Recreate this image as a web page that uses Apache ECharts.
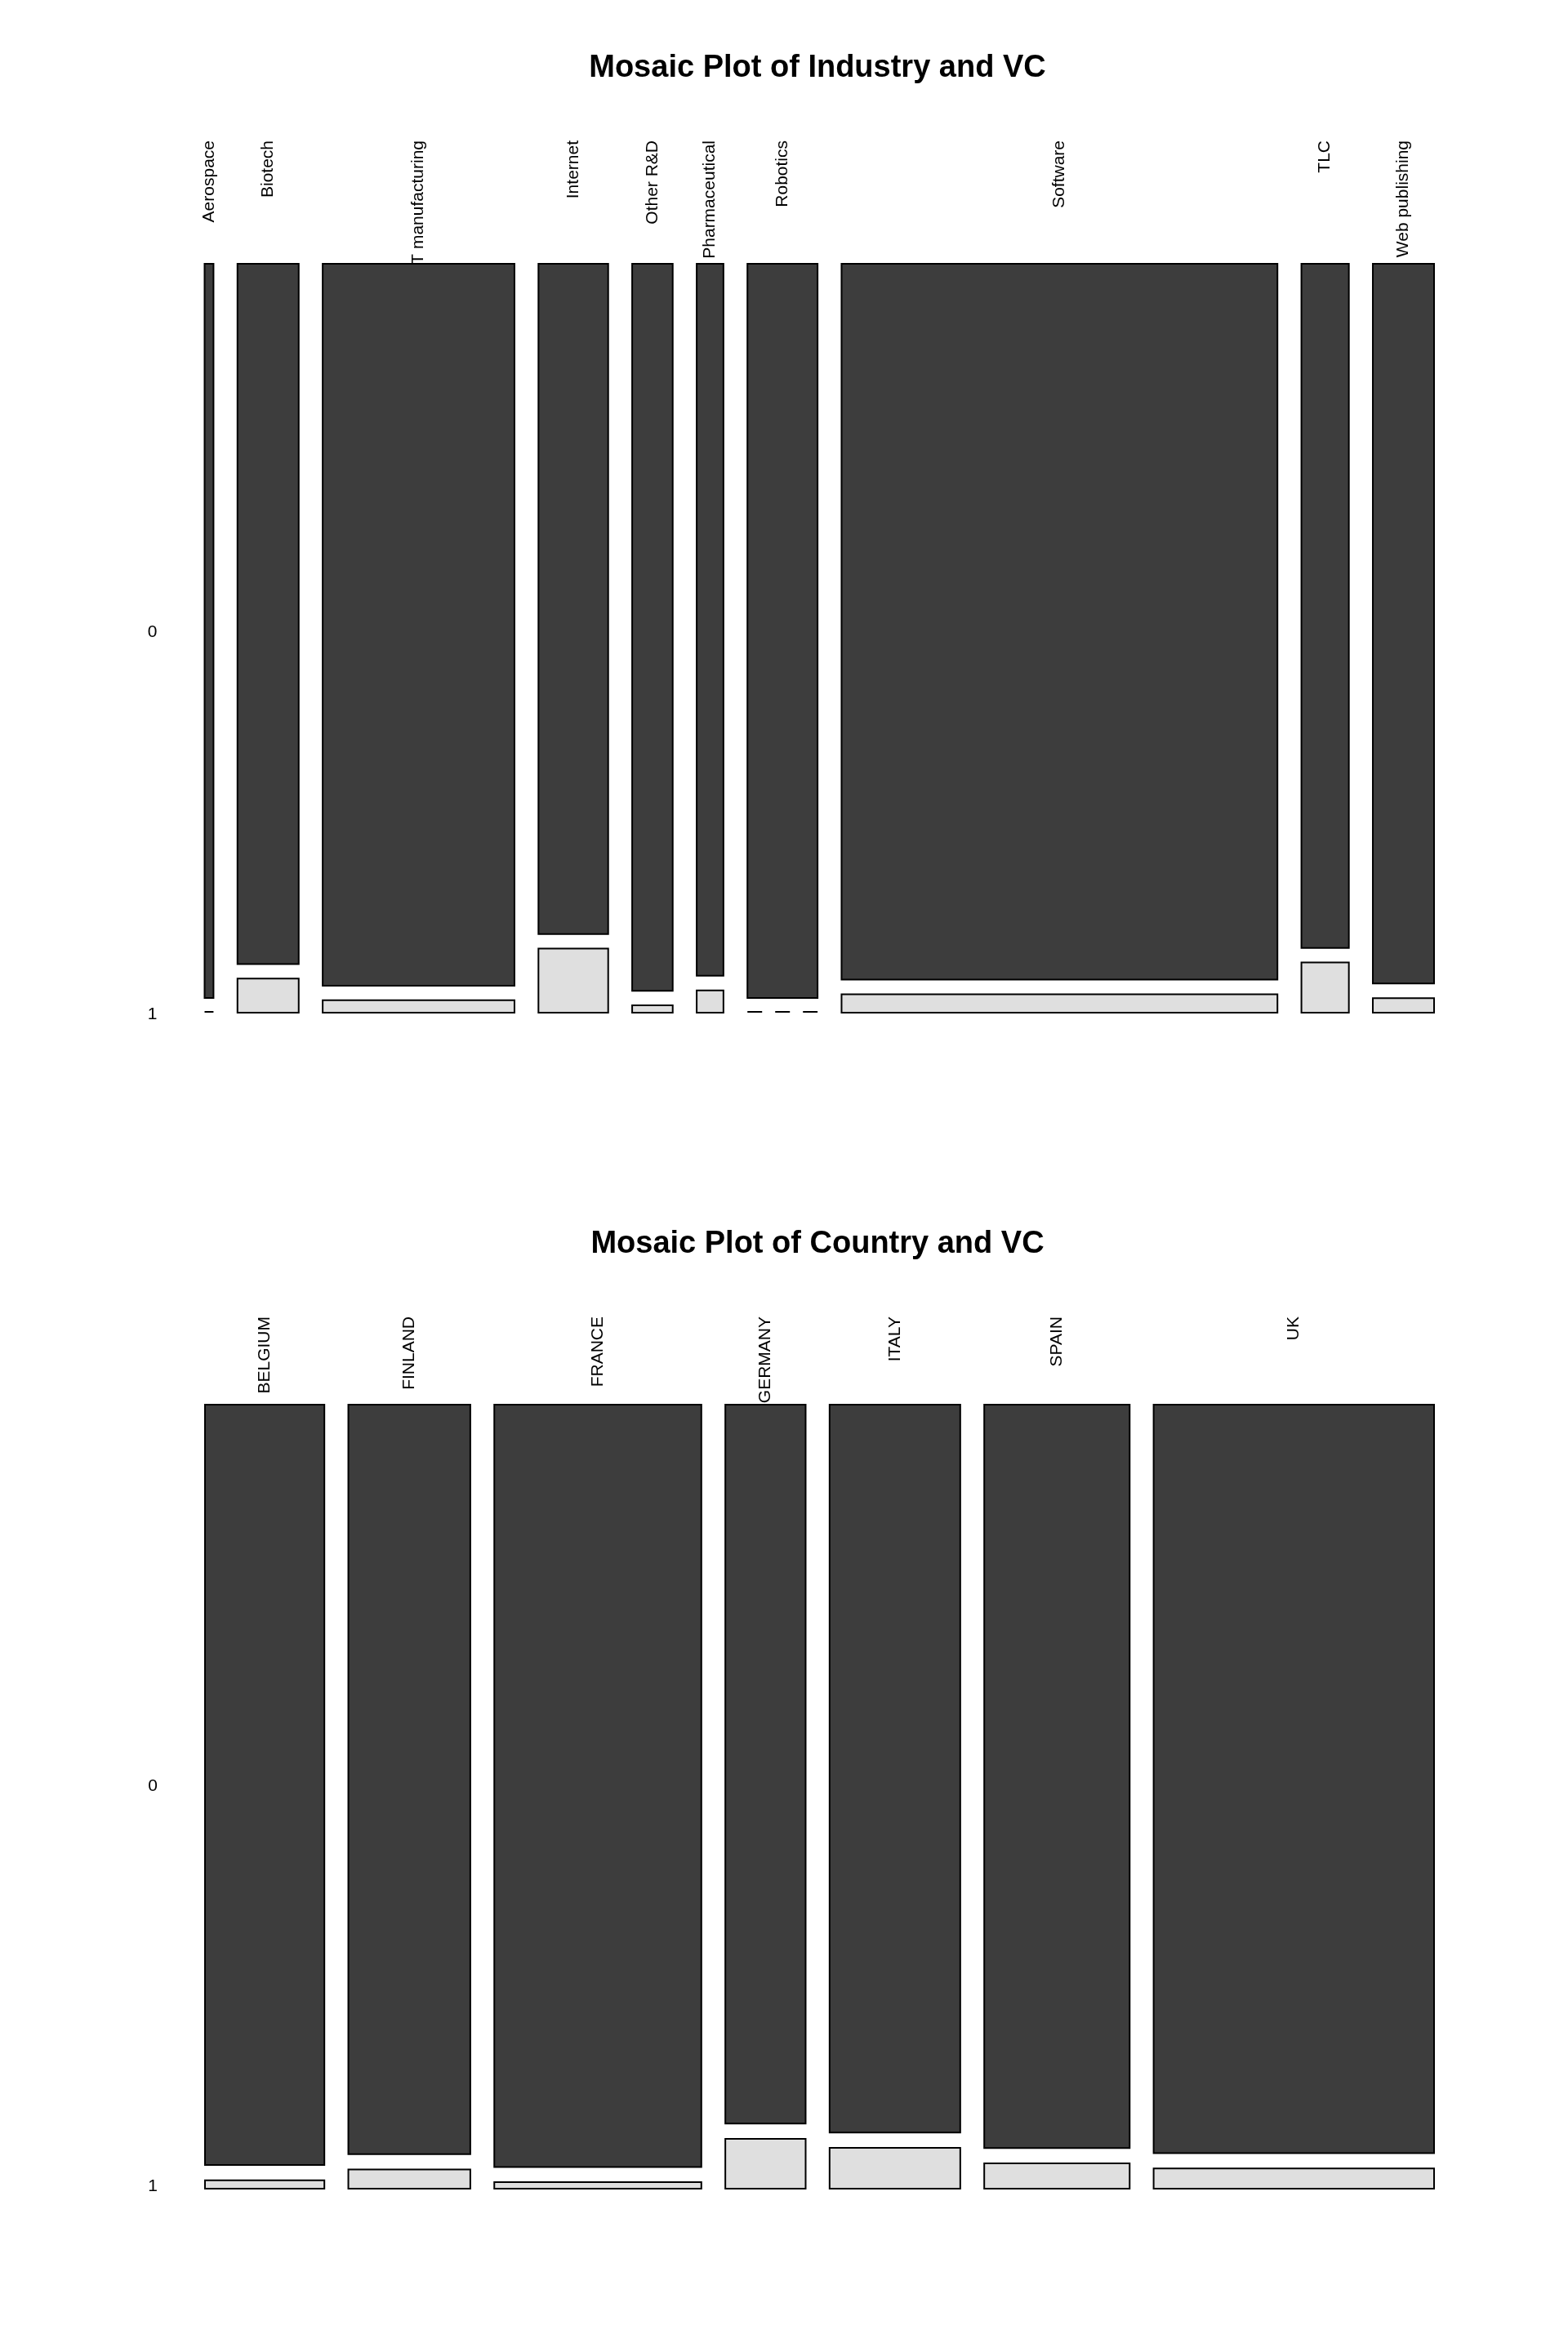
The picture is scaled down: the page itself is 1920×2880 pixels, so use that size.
<!DOCTYPE html>
<html>
<head>
<meta charset="utf-8">
<title>Mosaic plots</title>
<script src="https://cdn.jsdelivr.net/npm/echarts@6/dist/echarts.min.js"></script>
<style>
html, body { margin: 0; padding: 0; background: #fff; }
#main { width: 1920px; height: 2880px; }
</style>
</head>
<body>
<div id="main"></div>
<script>
// counts (VC = 0 / VC = 1)
var industries = ['Aerospace', 'Biotech', 'IT manufacturing', 'Internet', 'Other R&D',
    'Pharmaceutical', 'Robotics', 'Software', 'TLC', 'Web publishing'];
var industryVC0 = [22, 144, 465, 157, 99, 64, 173, 1048, 109, 148];
var industryVC1 = [0, 7, 8, 15, 1, 2, 0, 27, 8, 3];

var countries = ['BELGIUM', 'FINLAND', 'FRANCE', 'GERMANY', 'ITALY', 'SPAIN', 'UK'];
var countryVC0 = [272, 274, 473, 173, 285, 324, 629];
var countryVC1 = [3, 7, 4, 12, 16, 11, 17];

var vcLevels = ['0', '1'];

var GAP = 0.0195;
var DARK = '#3d3d3d';
var LIGHT = '#dfdfdf';
var FONT = '"Liberation Sans", Arial, Helvetica, sans-serif';

// cells in [0,1] x [0,1] data units, like R's mosaicplot
function mosaic(vc0, vc1) {
    var totals = vc0.map(function(v, i) { return v + vc1[i]; });
    var n = totals.reduce(function(a, b) { return a + b; }, 0);
    var wScale = 1 - GAP * (totals.length - 1);
    var hScale = 1 - GAP;
    var cells = [], cols = [], rows = [];
    var x = 0;
    for (var i = 0; i < totals.length; i++) {
        var w = totals[i] / n * wScale;
        var h1 = vc1[i] / totals[i] * hScale;
        cells.push([x, x + w, 0, h1, 1, vc1[i] === 0 ? 1 : 0]);
        cells.push([x, x + w, h1 + GAP, 1, 0, vc0[i] === 0 ? 1 : 0]);
        cols.push([x + w / 2, i]);
        if (i === 0) {
            rows.push([(h1 + GAP + 1) / 2, 0]);
            rows.push([h1 / 2, 1]);
        }
        x += w + GAP;
    }
    return { cells: cells, cols: cols, rows: rows };
}

var top1 = mosaic(industryVC0, industryVC1);
var top2 = mosaic(countryVC0, countryVC1);

function renderCell(params, api) {
    var p0 = api.coord([api.value(0), api.value(2)]);
    var p1 = api.coord([api.value(1), api.value(3)]);
    if (api.value(5)) {
        return {
            type: 'line',
            shape: { x1: p0[0], y1: p0[1] - 1, x2: p1[0], y2: p0[1] - 1 },
            style: { stroke: '#000', lineWidth: 2, lineDash: [18, 16] }
        };
    }
    return {
        type: 'rect',
        shape: { x: p0[0], y: p1[1], width: p1[0] - p0[0], height: p0[1] - p1[1] },
        style: { fill: api.value(4) ? LIGHT : DARK, stroke: '#000', lineWidth: 2 }
    };
}

function colLabels(names, gap) {
    return function(params, api) {
        var pt = api.coord([api.value(0), 1]);
        return {
            type: 'text',
            x: pt[0],
            y: pt[1] - gap,
            rotation: Math.PI / 2,
            style: {
                text: names[api.value(1)], fill: '#000',
                fontSize: 21, fontFamily: FONT,
                align: 'right', verticalAlign: 'middle'
            }
        };
    };
}

function rowLabels(params, api) {
    var pt = api.coord([0, api.value(0)]);
    return {
        type: 'text',
        x: pt[0] - 64,
        y: pt[1] + 2,
        style: {
            text: vcLevels[api.value(1)], fill: '#000',
            fontSize: 21, fontFamily: FONT,
            align: 'center', verticalAlign: 'middle'
        }
    };
}

function axes(idx) {
    return { gridIndex: idx, type: 'value', min: 0, max: 1, show: false };
}

var myChart = echarts.init(document.getElementById('main'));

var option = {
    animation: false,
    backgroundColor: '#fff',
    title: [{
        text: 'Mosaic Plot of Industry and VC',
        left: 996, top: 60, textAlign: 'center',
        textStyle: { fontSize: 38, fontWeight: 'bold', fontFamily: FONT, color: '#000', lineHeight: 38 }
    }, {
        text: 'Mosaic Plot of Country and VC',
        left: 996, top: 1500, textAlign: 'center',
        textStyle: { fontSize: 38, fontWeight: 'bold', fontFamily: FONT, color: '#000', lineHeight: 38 }
    }],
    grid: [
        { left: 250.5, top: 323, width: 1505.5, height: 917 },
        { left: 251, top: 1720, width: 1505, height: 960 }
    ],
    xAxis: [axes(0), axes(1)],
    yAxis: [axes(0), axes(1)],
    series: [{
        type: 'custom', xAxisIndex: 0, yAxisIndex: 0, z: 1,
        renderItem: colLabels(industries, 151), data: top1.cols, silent: true
    }, {
        type: 'custom', xAxisIndex: 0, yAxisIndex: 0, z: 1,
        renderItem: rowLabels, data: top1.rows, silent: true
    }, {
        type: 'custom', xAxisIndex: 0, yAxisIndex: 0, z: 2, clip: false,
        renderItem: renderCell, encode: { x: [0, 1], y: [2, 3] }, data: top1.cells
    }, {
        type: 'custom', xAxisIndex: 1, yAxisIndex: 1, z: 1,
        renderItem: colLabels(countries, 108), data: top2.cols, silent: true
    }, {
        type: 'custom', xAxisIndex: 1, yAxisIndex: 1, z: 1,
        renderItem: rowLabels, data: top2.rows, silent: true
    }, {
        type: 'custom', xAxisIndex: 1, yAxisIndex: 1, z: 2, clip: false,
        renderItem: renderCell, encode: { x: [0, 1], y: [2, 3] }, data: top2.cells
    }]
};

myChart.setOption(option);
</script>
</body>
</html>
